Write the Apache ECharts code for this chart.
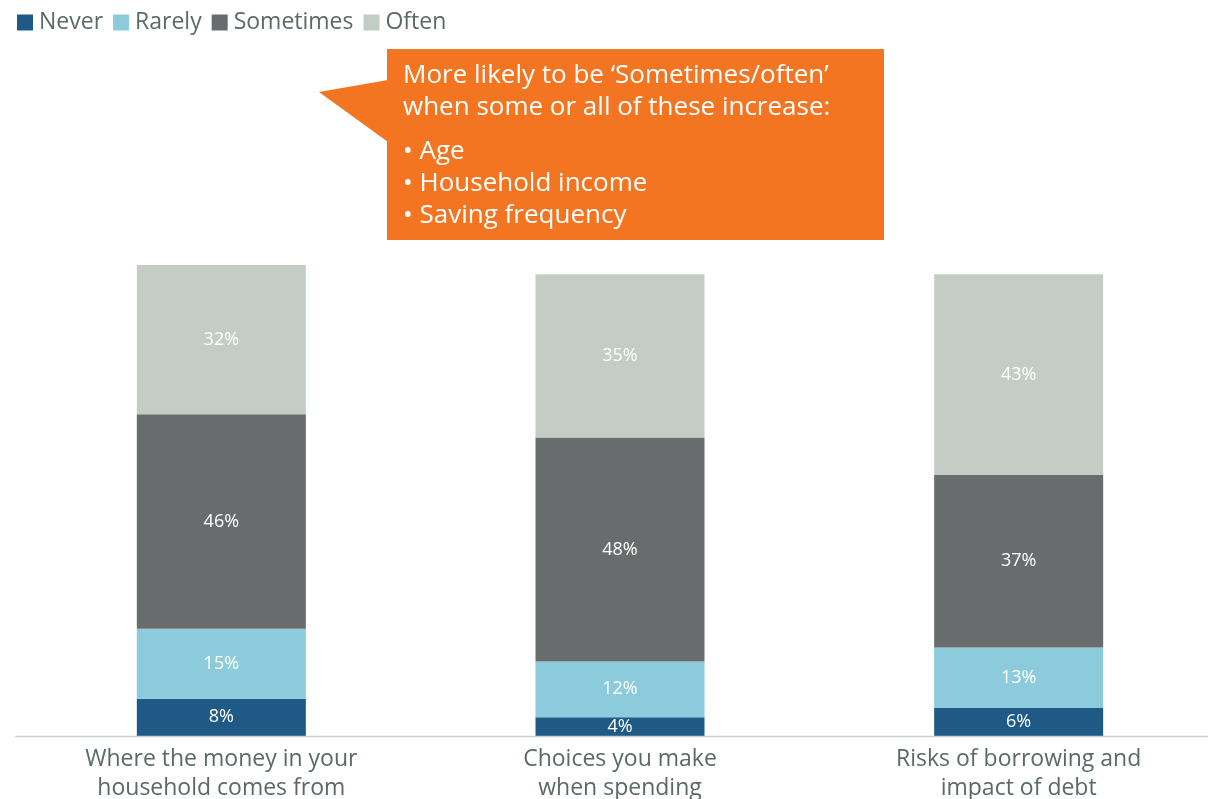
<!DOCTYPE html>
<html>
<head>
<meta charset="utf-8">
<script src="https://cdn.jsdelivr.net/npm/echarts@6/dist/echarts.min.js"></script>
<style>
  html, body { margin: 0; padding: 0; background: #ffffff; overflow: hidden; }
  #chart { width: 1230px; height: 799px; }
</style>
</head>
<body>
<div id="chart"></div>
<script>
// Survey topics (x categories)
const categories = [
  'Where the money in your\nhousehold comes from',
  'Choices you make\nwhen spending',
  'Risks of borrowing and\nimpact of debt'
];

// Share of respondents per answer, in percent
const never = [8, 4, 6];
const rarely = [15, 12, 13];
const sometimes = [46, 48, 37];
const often = [32, 35, 43];

const seriesNames = ['Never', 'Rarely', 'Sometimes', 'Often'];
const seriesColors = ['#1f5a86', '#8ccbdb', '#696c6c', '#c3cdc5'];

const calloutLines = [
  'More likely to be \u2018Sometimes/often\u2019',
  'when some or all of these increase:'
];
const calloutBullets = ['Age', 'Household income', 'Saving frequency'];

const FONT = '"Open Sans", Lato, sans-serif';
const TEXT_COLOR = '#5b6a63';

const chart = echarts.init(document.getElementById('chart'), null, { renderer: 'canvas' });

const values = [never, rarely, sometimes, often];
const series = seriesNames.map((name, i) => ({
  name: name,
  type: 'bar',
  stack: 'total',
  barWidth: 169,
  data: values[i],
  itemStyle: { color: seriesColors[i] },
  label: {
    show: true,
    position: 'inside',
    formatter: '{c}%',
    color: '#ffffff',
    fontFamily: FONT,
    fontSize: 18,
    fontWeight: 400
  },
  emphasis: { disabled: true }
}));

const option = {
  animation: false,
  backgroundColor: '#ffffff',
  legend: {
    left: 12,
    top: 6,
    itemWidth: 16,
    itemHeight: 16,
    itemGap: 10,
    icon: 'rect',
    data: seriesNames,
    textStyle: { color: TEXT_COLOR, fontFamily: FONT, fontSize: 23, padding: [0, 0, 0, 1] }
  },
  grid: {
    left: 22, top: 265, width: 1196, height: 471,
    containLabel: false, outerBoundsMode: 'none'
  },
  xAxis: {
    type: 'category',
    data: categories,
    axisLine: { show: false },
    axisTick: { show: false },
    axisLabel: {
      color: TEXT_COLOR,
      fontFamily: FONT,
      fontSize: 23,
      lineHeight: 29,
      margin: 9
    }
  },
  yAxis: {
    type: 'value',
    min: 0,
    max: 101,
    show: false,
    splitLine: { show: false }
  },
  series: series,
  graphic: [
    {
      type: 'line',
      shape: { x1: 15, y1: 736.5, x2: 1208, y2: 736.5 },
      style: { stroke: '#c9d0cd', lineWidth: 1.5 },
      z: 10
    },
    {
      type: 'polygon',
      shape: { points: [[388, 80], [319, 92], [388, 142]] },
      style: { fill: '#f47521' }
    },
    {
      type: 'rect',
      shape: { x: 387, y: 49, width: 497, height: 191 },
      style: { fill: '#f47521' }
    },
    {
      type: 'text',
      x: 403,
      y: 60,
      style: {
        text: calloutLines.join('\n'),
        fill: '#ffffff',
        font: '26px ' + FONT,
        lineHeight: 32
      }
    },
    {
      type: 'text',
      x: 403,
      y: 136,
      style: {
        text: calloutBullets.map(b => '\u2022 ' + b).join('\n'),
        fill: '#ffffff',
        font: '26px ' + FONT,
        lineHeight: 32
      }
    }
  ]
};

chart.setOption(option);
</script>
</body>
</html>
